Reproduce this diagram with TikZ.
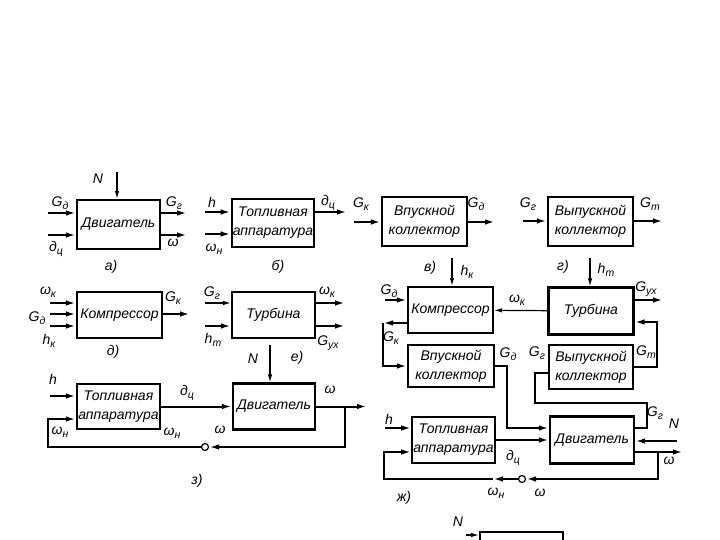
\documentclass[tikz,border=0pt]{standalone}
\usepackage{fontspec}
\setmainfont{Liberation Sans}
\usetikzlibrary{positioning,arrows.meta}
\newcommand{\lb}[2]{#1\raisebox{-0.45ex}{\fontsize{10.5}{10.5}\selectfont #2}}

\begin{document}
\begin{tikzpicture}[x=1pt,y=-1pt,
box/.style={rectangle,draw,line width=2.2pt,minimum width=83pt,minimum height=46pt,
inner sep=1pt,align=center,font=\fontsize{14}{19}\selectfont\itshape},
arrow/.style={-{Latex[length=10pt,width=5.5pt]},line width=2pt},
thinarrow/.style={-{Latex[length=8pt,width=4.5pt]},line width=1.2pt},
line/.style={line width=2pt},
lbl/.style={font=\fontsize{14}{14}\selectfont\itshape,inner sep=0pt},
tag/.style={font=\fontsize{14}{14}\selectfont\itshape,inner sep=0pt},
dot/.style={circle,draw,fill=white,line width=1.2pt,inner sep=0pt,minimum size=7pt}
]
\useasboundingbox (0,0) rectangle (720,540);
\clip (0,0) rectangle (720,540);

% a)
\node[box,minimum height=49pt] (dvA) at (118.5,224.5) {Двигатель};
\coordinate (aGd) at (48,213); \coordinate (aGc) at (48,235);
\coordinate (aGg) at (187,213); \coordinate (aW) at (187,235);
\coordinate (aN) at (117,172);
\draw[arrow] (aGd) -- (aGd -| dvA.west); \draw[arrow] (aGc) -- (aGc -| dvA.west);
\draw[arrow] (aGg -| dvA.east) -- (aGg); \draw[arrow] (aW -| dvA.east) -- (aW);
\draw[thinarrow] (aN) -- (aN |- dvA.north);
\node[lbl] at (98,179) {N};
\node[lbl] at (60,203) {\lb{G}{д}};
\node[lbl] at (56,249) {\lb{д}{ц}};
\node[lbl] at (174,203) {\lb{G}{г}};
\node[lbl] at (173,243) {ω};
\node[tag] at (111,267) {а)};

% b)
\node[box,minimum width=80pt,minimum height=48pt] (toplB) at (273,223) {Топливная\\аппаратура};
\coordinate (bH) at (205,212); \coordinate (bWn) at (205,234); \coordinate (bGc) at (347,212);
\draw[arrow] (bH) -- (bH -| toplB.west); \draw[arrow] (bWn) -- (bWn -| toplB.west);
\draw[arrow] (bGc -| toplB.east) -- (bGc);
\node[lbl] at (212,202) {h};
\node[lbl] at (214,249) {\lb{ω}{н}};
\node[lbl] at (328,203) {\lb{д}{ц}};
\node[tag] at (278,267) {б)};

% v)
\node[box,minimum width=85pt,minimum height=49pt] (vpuskV) at (424.5,221.5) {Впускной\\коллектор};
\coordinate (vGk) at (354,222); \coordinate (vGd) at (495,222);
\draw[arrow] (vGk) -- (vGk -| vpuskV.west); \draw[arrow] (vGd -| vpuskV.east) -- (vGd);
\node[lbl] at (361,204) {\lb{G}{к}};
\node[lbl] at (476,204) {\lb{G}{д}};
\node[tag] at (430,268) {в)};

% g)
\node[box,minimum width=85pt,minimum height=49pt] (vypuskG) at (590.5,221.5) {Выпускной\\коллектор};
\coordinate (gGg) at (523,221); \coordinate (gGt) at (663,221);
\draw[arrow] (gGg) -- (gGg -| vypuskG.west); \draw[arrow] (gGt -| vypuskG.east) -- (gGt);
\node[lbl] at (528,204) {\lb{G}{г}};
\node[lbl] at (650,204) {\lb{G}{т}};
\node[tag] at (563,267) {г)};

% d)
\node[box,minimum width=85pt] (kompD) at (119.5,315) {Компрессор};
\coordinate (dWk) at (50,303); \coordinate (dGd) at (50,314); \coordinate (dHk) at (50,326);
\coordinate (dGk) at (190,314);
\draw[arrow] (dWk) -- (dWk -| kompD.west); \draw[arrow] (dGd) -- (dGd -| kompD.west);
\draw[arrow] (dHk) -- (dHk -| kompD.west); \draw[arrow] (dGk -| kompD.east) -- (dGk);
\node[lbl] at (48,292) {\lb{ω}{к}};
\node[lbl] at (37,318) {\lb{G}{д}};
\node[lbl] at (49,341) {\lb{h}{к}};
\node[lbl] at (173,298) {\lb{G}{к}};
\node[tag] at (113,352) {д)};

% e)
\node[box] (turbE) at (273.5,315) {Турбина};
\coordinate (eGg) at (205,303); \coordinate (eHt) at (205,326);
\coordinate (eWk) at (345,303); \coordinate (eGux) at (345,326);
\draw[thinarrow] (eGg) -- (eGg -| turbE.west); \draw[arrow] (eHt) -- (eHt -| turbE.west);
\draw[arrow] (eWk -| turbE.east) -- (eWk); \draw[arrow] (eGux -| turbE.east) -- (eGux);
\node[lbl] at (212,293) {\lb{G}{г}};
\node[lbl] at (213,340) {\lb{h}{т}};
\node[lbl] at (327,292) {\lb{ω}{к}};
\node[lbl] at (328,343) {\lb{G}{ух}};
\node[tag] at (297,358) {е)};

% z)
\node[box,minimum height=45pt] (toplZ) at (118.5,406.5) {Топливная\\аппаратура};
\node[box,minimum width=82pt] (dvZ) at (274,406.5) {Двигатель};
\node[dot] (zC) at (205,447) {};
\coordinate (zH) at (50,396); \coordinate (zW) at (367,406.5);
\coordinate (zTap) at (345,406.5); \coordinate (zL) at (48,419); \coordinate (zN) at (270,345);
\draw[arrow] (zH) -- (zH -| toplZ.west);
\draw[arrow] (toplZ) -- (dvZ);
\draw[arrow] (dvZ.east) -- (zW);
\draw[arrow] (zTap) |- (zC.east);
\draw[arrow] (zC.west) -| (zL) -- (zL -| toplZ.west);
\draw[thinarrow] (zN) -- (zN |- dvZ.north);
\node[lbl] at (53,379) {h};
\node[lbl] at (60,432) {\lb{ω}{н}};
\node[lbl] at (187,393) {\lb{д}{ц}};
\node[lbl] at (172,433) {\lb{ω}{н}};
\node[lbl] at (220,430) {ω};
\node[lbl] at (330,390) {ω};
\node[lbl] at (253,359) {N};
\node[tag] at (197,481) {з)};

% zh)
\node[box,minimum width=85pt] (kompJ) at (450.5,310) {Компрессор};
\node[box,minimum width=85pt,minimum height=47pt] (turbJ) at (591,311) {Турбина};
\node[box,minimum width=86pt,minimum height=42pt] (vpuskJ) at (451,366) {Впускной\\коллектор};
\node[box,minimum width=84pt,minimum height=44pt] (vypuskJ) at (591,367) {Выпускной\\коллектор};
\node[box,minimum width=81pt] (toplJ) at (453.5,440) {Топливная\\аппаратура};
\node[box,minimum width=84pt,minimum height=47pt] (dvJ) at (592,440) {Двигатель};
\node[dot] (jC) at (522,479) {};
\coordinate (jHk) at (452,258); \coordinate (jHt) at (590,258);
\coordinate (jGd) at (385,300); \coordinate (jGux) at (663,300);
\coordinate (jK) at (383,323); \coordinate (jD) at (507,428);
\coordinate (jH) at (385,428); \coordinate (jG1) at (647,403); \coordinate (jG2) at (535,373);
\coordinate (jT) at (657,322); \coordinate (jN) at (677,441); \coordinate (jW) at (683,452);
\coordinate (jTap) at (658,452); \coordinate (jM) at (493,479); \coordinate (jL) at (384,452);
\draw[thinarrow] (jHk) -- (jHk |- kompJ.north);
\draw[thinarrow] (jHt) -- (jHt |- turbJ.north);
\draw[arrow] (jGd) -- (jGd -| kompJ.west);
\draw[thinarrow] (turbJ) -- (kompJ);
\draw[arrow] (jGux -| turbJ.east) -- (jGux);
\draw[arrow] (jK -| kompJ.west) -- (jK);
\draw[arrow] (jK) |- (vpuskJ.west);
\draw[arrow] (vpuskJ.east) -| (jD) -- (jD -| dvJ.west);
\draw[arrow] (toplJ) -- (dvJ);
\draw[arrow] (jH) -- (jH -| toplJ.west);
\draw[line] (jD -| dvJ.east) -| (jG1) -| (jG2) -- (jG2 -| vypuskJ.west);
\draw[arrow] (vypuskJ.east) -| (jT) -- (jT -| turbJ.east);
\draw[arrow] (jN) -- (jN -| dvJ.east);
\draw[arrow] (jW -| dvJ.east) -- (jW);
\draw[arrow] (jTap) |- (jC.east);
\draw[arrow] (jC.west) -- (jM);
\draw[arrow] (jM) -| (jL) -- (jL -| toplJ.west);
\node[lbl] at (389,291) {\lb{G}{д}};
\node[lbl] at (467,272) {\lb{h}{к}};
\node[lbl] at (606,270) {\lb{h}{т}};
\node[lbl] at (517,300) {\lb{ω}{к}};
\node[lbl] at (646,289) {\lb{G}{ух}};
\node[lbl] at (391,338) {\lb{G}{к}};
\node[lbl] at (508,354) {\lb{G}{д}};
\node[lbl] at (537,353) {\lb{G}{г}};
\node[lbl] at (646,352) {\lb{G}{т}};
\node[lbl] at (389,419) {h};
\node[lbl] at (513,458) {\lb{д}{ц}};
\node[lbl] at (655,413) {\lb{G}{г}};
\node[lbl] at (674,424) {N};
\node[lbl] at (669,461) {ω};
\node[lbl] at (496,493) {\lb{ω}{н}};
\node[lbl] at (540,493) {ω};
\node[tag] at (404,498) {ж)};

% bottom (cut off)
\node[box] (botBox) at (521.5,555) {};
\coordinate (bN) at (466,535);
\draw[thinarrow] (bN) -- (bN -| botBox.west);
\node[lbl] at (458,522) {N};
\end{tikzpicture}
\end{document}
